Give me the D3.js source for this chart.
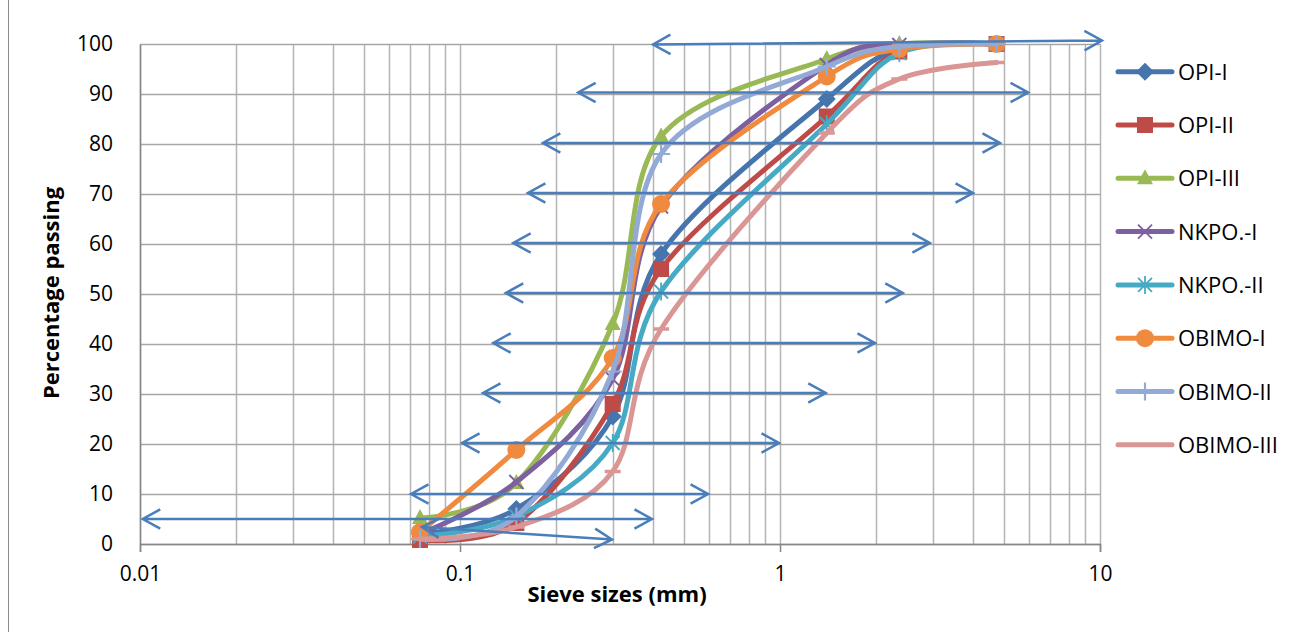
<!DOCTYPE html>
<html><head><meta charset="utf-8">
<script src="https://cdn.jsdelivr.net/npm/d3@7"></script>
<style>
html,body{margin:0;padding:0;background:#fff;}
svg{display:block;}
text{font-family:"Open Sans","Liberation Sans",sans-serif;fill:#000;}
</style></head>
<body>
<svg id="chart" width="1300" height="632"></svg>
<script>
// ---------- data ----------
const sieveSizes = [0.075, 0.15, 0.3, 0.425, 1.4, 2.36, 4.75];
const seriesNames = ["OPI-I","OPI-II","OPI-III","NKPO.-I","NKPO.-II","OBIMO-I","OBIMO-II","OBIMO-III"];
const opi1   = [2.0, 7.0, 25.5, 58.0, 89.0, 99.0, 100];
const opi2   = [0.8, 4.2, 28.0, 55.0, 85.5, 98.5, 100];
const opi3   = [5.2, 12.2, 44.0, 81.5, 97.0, 100, 100];
const nkpo1  = [2.0, 12.4, 33.0, 67.5, 95.8, 99.8, 100];
const nkpo2  = [1.5, 5.5, 20.2, 50.5, 84.0, 98.2, 100];
const obimo1 = [2.4, 18.8, 37.2, 68.0, 93.5, 99.0, 100];
const obimo2 = [1.0, 5.5, 34.5, 78.0, 95.5, 99.5, 100];
const obimo3 = [1.0, 3.4, 14.5, 43.0, 82.2, 93.0, 96.3];
const seriesValues = [opi1, opi2, opi3, nkpo1, nkpo2, obimo1, obimo2, obimo3];
const seriesColors = ["#4674ad","#be4b48","#98b954","#7d60a0","#46aac5","#f08a3e","#93aad6","#d99694"];
const seriesMarkers = ["diamond","square","triangle","x","star","circle","plus","dash"];
const yTicks = [0,10,20,30,40,50,60,70,80,90,100];
const xTicks = [0.01, 0.1, 1, 10];
// double-headed annotation arrows: [x1, y1, x2, y2] in data units
const arrows = [
  [0.401, 99.9, 10.14, 100.7],
  [0.234, 90.3, 5.96, 90.3],
  [0.1815, 80.2, 4.87, 80.2],
  [0.163, 70.2, 4.01, 70.2],
  [0.1466, 60.2, 2.94, 60.2],
  [0.139, 50.2, 2.42, 50.2],
  [0.127, 40.2, 1.98, 40.2],
  [0.118, 30.2, 1.39, 30.2],
  [0.1015, 20.2, 0.993, 20.2],
  [0.0703, 10.0, 0.596, 10.0],
  [0.0102, 5.0, 0.398, 5.0],
  [0.076, 3.4, 0.2985, 0.9]
];

// ---------- layout ----------
const svg = d3.select("#chart");
const L = 140, R = 1100, T = 44, B = 544;
const x = d3.scaleLog().domain([0.01, 10]).range([L, R]);
const y = d3.scaleLinear().domain([0, 100]).range([B, T]);

// chart border
svg.append("rect").attr("x",8.5).attr("y",-2).attr("width",1400).attr("height",700)
  .attr("fill","none").attr("stroke","#8c8c8c").attr("stroke-width",1);

// gridlines
const minor = [];
for (let d = 0.01; d < 10; d *= 10) for (let k = 1; k <= 9; k++) minor.push(+(d*k).toPrecision(3));
minor.push(10);
svg.append("g").selectAll("line").data(minor).join("line")
  .attr("x1", d => Math.round(x(d))+0.5).attr("x2", d => Math.round(x(d))+0.5)
  .attr("y1", T).attr("y2", B)
  .attr("stroke","#b4b4b4").attr("stroke-width",1.5);
svg.append("g").selectAll("line").data(yTicks).join("line")
  .attr("x1", L).attr("x2", R)
  .attr("y1", d => Math.round(y(d))+0.5).attr("y2", d => Math.round(y(d))+0.5)
  .attr("stroke","#a6a6a6").attr("stroke-width",1.5);

// axes
const xAxis = d3.axisBottom(x).tickValues(xTicks).tickFormat(d => d3.format("")(d)).tickSize(8).tickPadding(14);
const gx = svg.append("g").attr("transform",`translate(0,${B})`).call(xAxis);
gx.select(".domain").attr("stroke","#868686").attr("stroke-width",1.5);
gx.selectAll(".tick line").attr("stroke","#868686").attr("stroke-width",1.5);
gx.selectAll("text").style("font-size","21px").attr("fill","#000");

const yAxis = d3.axisLeft(y).tickValues(yTicks).tickSize(0).tickPadding(27);
const gy = svg.append("g").attr("transform",`translate(${L},0)`).call(yAxis);
gy.select(".domain").attr("stroke","#868686").attr("stroke-width",1.5);
gy.selectAll("text").style("font-size","21px").attr("fill","#000");

// axis titles
svg.append("text").attr("x",617).attr("y",602).attr("text-anchor","middle")
  .style("font-size","22px").style("font-weight","bold").text("Sieve sizes (mm)");
svg.append("text").attr("transform","translate(59,293) rotate(-90)").attr("text-anchor","middle")
  .style("font-size","22px").style("font-weight","bold").text("Percentage passing");

// marker drawing
function drawMarker(g, type, cx, cy, color) {
  switch (type) {
    case "diamond":
      g.append("path").attr("d",`M${cx},${cy-9}L${cx+9},${cy}L${cx},${cy+9}L${cx-9},${cy}Z`)
        .attr("fill", color);
      break;
    case "square":
      g.append("rect").attr("x",cx-8).attr("y",cy-8).attr("width",16).attr("height",16).attr("fill",color);
      break;
    case "triangle":
      g.append("path").attr("d",`M${cx},${cy-9}L${cx+8},${cy+6}L${cx-8},${cy+6}Z`).attr("fill",color);
      break;
    case "circle":
      g.append("circle").attr("cx",cx).attr("cy",cy).attr("r",9).attr("fill",color);
      break;
    case "x":
      g.append("path").attr("d",`M${cx-7},${cy-7}L${cx+7},${cy+7}M${cx-7},${cy+7}L${cx+7},${cy-7}`)
        .attr("stroke",color).attr("stroke-width",1.8);
      break;
    case "star":
      g.append("path").attr("d",`M${cx-7},${cy-7}L${cx+7},${cy+7}M${cx-7},${cy+7}L${cx+7},${cy-7}M${cx},${cy-9}L${cx},${cy+9}`)
        .attr("stroke",color).attr("stroke-width",1.8);
      break;
    case "plus":
      g.append("path").attr("d",`M${cx-9},${cy}L${cx+9},${cy}M${cx},${cy-9}L${cx},${cy+9}`)
        .attr("stroke",color).attr("stroke-width",2.2);
      break;
    case "dash":
      g.append("path").attr("d",`M${cx-8},${cy}L${cx+8},${cy}`)
        .attr("stroke",color).attr("stroke-width",3.5);
      break;
  }
}

// series
const line = d3.line().x(d => x(d[0])).y(d => y(d[1])).curve(d3.curveCardinal.tension(0));
seriesValues.forEach((vals, i) => {
  const pts = sieveSizes.map((s, j) => [s, vals[j]]);
  const g = svg.append("g");
  g.append("path").attr("d", line(pts)).attr("fill","none")
    .attr("stroke", seriesColors[i]).attr("stroke-width",5).attr("stroke-linejoin","round").attr("stroke-linecap","round");
  pts.forEach(p => drawMarker(g, seriesMarkers[i], x(p[0]), y(p[1]), seriesColors[i]));
});

// arrows
const arrowColor = "#4a7ebb";
const ag = svg.append("g");
function head(px, py, ang) {
  const len = 20, spread = Math.PI/6.2;
  const a1 = ang + spread, a2 = ang - spread;
  return `M${px+len*Math.cos(a1)},${py+len*Math.sin(a1)}L${px},${py}L${px+len*Math.cos(a2)},${py+len*Math.sin(a2)}`;
}
arrows.forEach(a => {
  const x1 = x(a[0]), y1 = y(a[1]), x2 = x(a[2]), y2 = y(a[3]);
  const ang = Math.atan2(y2-y1, x2-x1);
  ag.append("path").attr("d",`M${x1},${y1}L${x2},${y2}` + head(x1,y1,ang) + head(x2,y2,ang+Math.PI))
    .attr("fill","none").attr("stroke",arrowColor).attr("stroke-width",2.5).attr("stroke-linejoin","miter");
});

// legend
const lg = svg.append("g");
seriesNames.forEach((name, i) => {
  const cy = 71.7 + i*53.3;
  lg.append("line").attr("x1",1118).attr("x2",1172).attr("y1",cy).attr("y2",cy)
    .attr("stroke",seriesColors[i]).attr("stroke-width",5).attr("stroke-linecap","round");
  drawMarker(lg, seriesMarkers[i], 1145, cy, seriesColors[i]);
  lg.append("text").attr("x",1178).attr("y",cy+8).style("font-size","22px").text(name);
});
</script>
</body></html>
